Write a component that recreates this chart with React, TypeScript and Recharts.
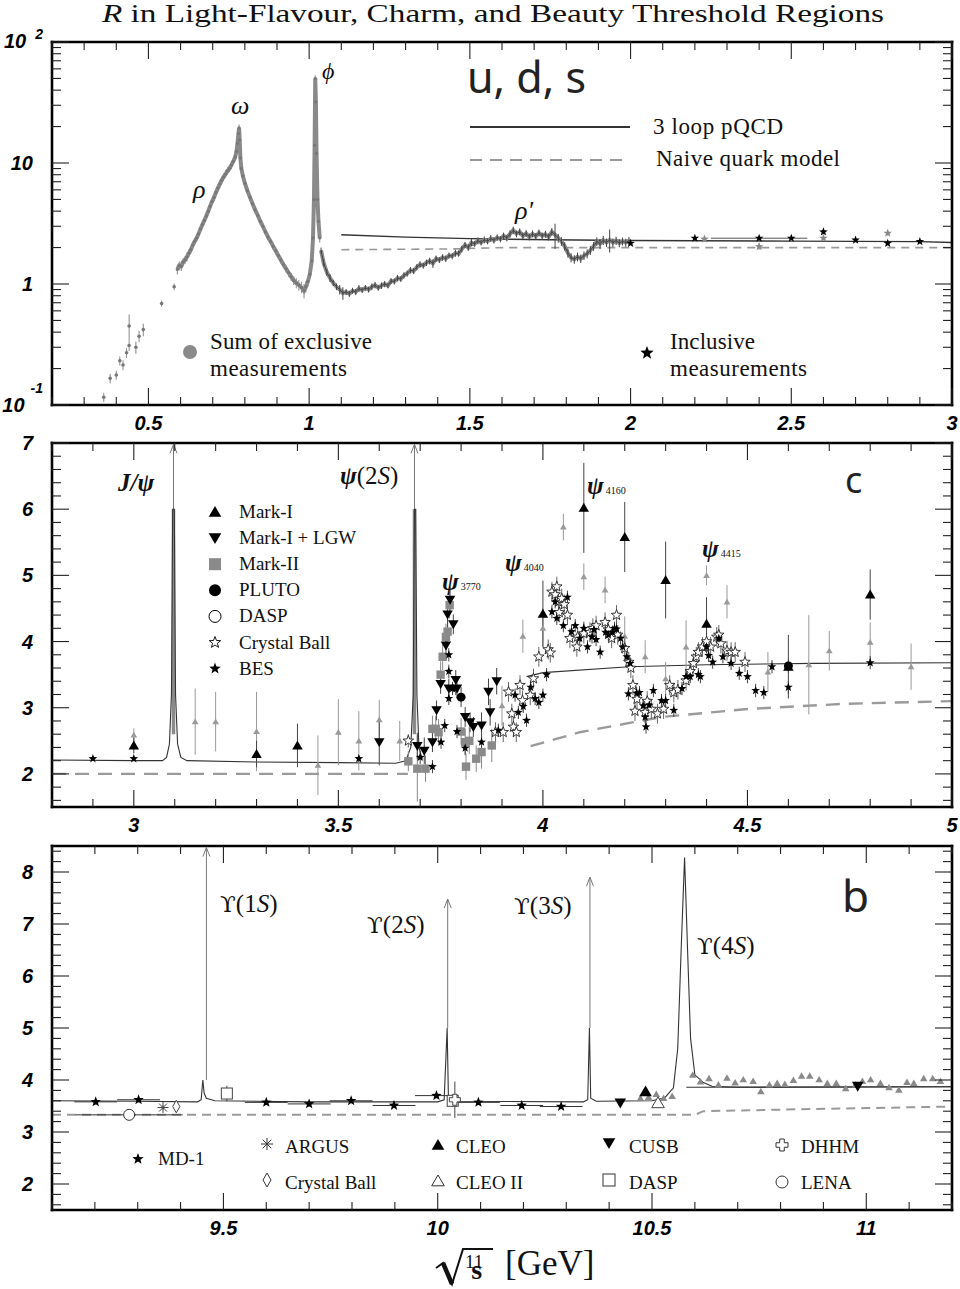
import React from 'react';
import { ComposedChart, Line, Scatter, XAxis, YAxis, ErrorBar } from 'recharts';

type Row = number[];
const toPts = (rows: Row[]) => rows.map((r) => ({ x: r[0], y: r[1], e: r[2] ?? 0, ex: r[3] ?? 0 }));

// ---------------- Panel 1 : u, d, s ----------------
const udsXTicks = [0.2, 0.3, 0.4, 0.5, 0.6, 0.7, 0.8, 0.9, 1, 1.1, 1.2, 1.3, 1.4, 1.5, 1.6, 1.7, 1.8, 1.9, 2, 2.1, 2.2, 2.3, 2.4, 2.5, 2.6, 2.7, 2.8, 2.9, 3];
const udsXMajor = [0.5, 1, 1.5, 2, 2.5, 3];
const udsYTicks = [0.1, 0.2, 0.3, 0.4, 0.5, 0.6, 0.7, 0.8, 0.9, 1, 2, 3, 4, 5, 6, 7, 8, 9, 10, 20, 30, 40, 50, 60, 70, 80, 90, 100];
const udsYMajor = [0.1, 1, 10, 100];

const udsExclusiveSparse: Row[] = [
  [0.361, 0.116, 0.01], [0.381, 0.166, 0.015], [0.4, 0.177, 0.015], [0.411, 0.232, 0.02], [0.421, 0.214, 0.02],
  [0.432, 0.27, 0.025], [0.44, 0.45, 0.11], [0.44, 0.31, 0.03], [0.461, 0.3, 0.035], [0.471, 0.37, 0.04],
  [0.484, 0.42, 0.05], [0.541, 0.69, 0.04], [0.58, 0.95, 0.06],
];
const udsExclusiveResonance: Row[] = [
  [0.59, 1.32, 0.12], [0.596, 1.42, 0.12], [0.602, 1.4, 0.12], [0.608, 1.52, 0.12], [0.614, 1.58, 0.12], [0.62, 1.68, 0.14],
  [0.626, 1.8, 0.14], [0.632, 1.92, 0.14], [0.638, 2.1, 0.15], [0.644, 2.25, 0.15], [0.65, 2.4, 0.16], [0.656, 2.6, 0.17],
  [0.662, 2.85, 0.18], [0.668, 3.1, 0.2], [0.674, 3.35, 0.22], [0.68, 3.65, 0.25], [0.686, 4.0, 0.28], [0.692, 4.4, 0.3],
  [0.698, 4.8, 0.32], [0.704, 5.2, 0.35], [0.71, 5.7, 0.4], [0.716, 6.2, 0.45], [0.722, 6.7, 0.5], [0.728, 7.2, 0.5],
  [0.734, 7.7, 0.5], [0.74, 8.1, 0.6], [0.746, 8.6, 0.6], [0.752, 9.0, 0.6], [0.758, 9.6, 0.7], [0.764, 10.3, 0.7],
  [0.77, 11.2, 0.8], [0.774, 12.5, 0.8], [0.777, 14.5, 1.0], [0.78, 17.5, 1.2], [0.782, 19.5, 1.3], [0.784, 15.5, 1.0],
  [0.786, 11.0, 0.8], [0.789, 9.0, 0.6], [0.794, 7.8, 0.5], [0.8, 6.8, 0.45], [0.808, 5.9, 0.4], [0.816, 5.2, 0.35],
  [0.824, 4.6, 0.3], [0.832, 4.1, 0.28], [0.84, 3.7, 0.25], [0.848, 3.3, 0.22], [0.856, 3.0, 0.2], [0.864, 2.7, 0.18],
  [0.872, 2.45, 0.16], [0.88, 2.25, 0.15], [0.888, 2.05, 0.14], [0.896, 1.88, 0.13], [0.904, 1.72, 0.12], [0.912, 1.58, 0.11],
  [0.92, 1.45, 0.1], [0.928, 1.34, 0.1], [0.936, 1.24, 0.09], [0.944, 1.15, 0.09], [0.952, 1.07, 0.09], [0.96, 1.02, 0.1],
  [0.968, 0.98, 0.1], [0.976, 0.94, 0.1], [0.984, 0.88, 0.12], [0.99, 0.95, 0.1], [0.996, 1.05, 0.1], [1.002, 1.2, 0.1],
  [1.008, 1.55, 0.12], [1.012, 2.4, 0.2], [1.015, 5.0, 0.4], [1.017, 14.0, 1.0], [1.019, 50.0, 3.0], [1.021, 32.0, 2.0],
  [1.023, 12.0, 1.0], [1.026, 5.0, 0.4], [1.029, 3.3, 0.25], [1.033, 2.4, 0.2],
];
const udsExclusiveContinuum: Row[] = [
  [1.037, 1.9, 0.1], [1.045, 1.5, 0.1], [1.055, 1.25, 0.08], [1.065, 1.12, 0.08], [1.075, 1.02, 0.06], [1.085, 0.95, 0.06],
  [1.095, 0.9, 0.08], [1.105, 0.84, 0.1], [1.115, 0.86, 0.05], [1.125, 0.83, 0.05], [1.135, 0.88, 0.05], [1.145, 0.86, 0.05],
  [1.155, 0.92, 0.06], [1.165, 0.89, 0.05], [1.175, 0.93, 0.05], [1.185, 0.9, 0.05], [1.195, 0.95, 0.06], [1.205, 0.98, 0.06],
  [1.215, 0.93, 0.05], [1.225, 0.97, 0.06], [1.235, 1.0, 0.06], [1.245, 0.97, 0.05], [1.255, 1.06, 0.06], [1.265, 1.05, 0.06],
  [1.275, 1.12, 0.07], [1.285, 1.1, 0.06], [1.295, 1.18, 0.07], [1.305, 1.22, 0.07], [1.315, 1.3, 0.08], [1.325, 1.28, 0.07],
  [1.335, 1.38, 0.08], [1.345, 1.45, 0.09], [1.355, 1.42, 0.08], [1.365, 1.5, 0.09], [1.375, 1.55, 0.1], [1.385, 1.48, 0.12],
  [1.395, 1.62, 0.1], [1.405, 1.58, 0.09], [1.415, 1.66, 0.1], [1.425, 1.62, 0.1], [1.435, 1.72, 0.1], [1.445, 1.7, 0.1],
  [1.455, 1.8, 0.12], [1.465, 1.78, 0.1], [1.475, 1.95, 0.12], [1.485, 2.1, 0.12], [1.495, 2.0, 0.12], [1.505, 2.2, 0.15],
  [1.515, 2.15, 0.12], [1.525, 2.28, 0.15], [1.535, 2.2, 0.12], [1.545, 2.32, 0.15], [1.555, 2.25, 0.12], [1.565, 2.38, 0.15],
  [1.575, 2.3, 0.14], [1.585, 2.42, 0.15], [1.595, 2.35, 0.14], [1.605, 2.5, 0.16], [1.615, 2.4, 0.15], [1.625, 2.6, 0.18],
  [1.635, 2.78, 0.2], [1.645, 2.6, 0.17], [1.655, 2.7, 0.18], [1.665, 2.5, 0.16], [1.675, 2.62, 0.17], [1.685, 2.45, 0.16],
  [1.695, 2.6, 0.17], [1.705, 2.48, 0.16], [1.715, 2.65, 0.17], [1.725, 2.5, 0.16], [1.735, 2.58, 0.17], [1.745, 2.45, 0.16],
  [1.755, 2.7, 0.2], [1.765, 2.55, 0.6], [1.775, 2.4, 0.2], [1.785, 2.25, 0.18], [1.795, 2.05, 0.16], [1.805, 1.8, 0.15],
  [1.815, 1.65, 0.14], [1.825, 1.6, 0.13], [1.835, 1.68, 0.14], [1.845, 1.62, 0.13], [1.855, 1.72, 0.14], [1.865, 1.78, 0.15],
  [1.875, 1.9, 0.16], [1.885, 2.05, 0.17], [1.895, 2.25, 0.18], [1.905, 2.15, 0.2], [1.915, 2.3, 0.2], [1.925, 2.2, 0.18],
  [1.935, 2.32, 0.5], [1.945, 2.2, 0.18], [1.955, 2.28, 0.18], [1.965, 2.18, 0.17], [1.975, 2.25, 0.17], [1.985, 2.2, 0.17],
  [1.995, 2.28, 0.17],
];
const udsPqcd: Row[] = [[1.1, 2.55], [1.3, 2.44], [1.5, 2.37], [1.75, 2.32], [2.0, 2.29], [2.5, 2.26], [2.9, 2.24], [3.0, 2.2]];
const udsNaive: Row[] = [[1.1, 1.92], [1.45, 1.95], [1.6, 2.0], [3.0, 2.0]];
const udsInclusive: Row[] = [
  [2.0, 2.17, 0, 0], [2.2, 2.39, 0, 0], [2.4, 2.39, 0, 0.15], [2.5, 2.39, 0, 0], [2.6, 2.7, 0, 0],
  [2.7, 2.31, 0, 0], [2.8, 2.17, 0, 0], [2.9, 2.24, 0, 0],
];
const udsInclusiveGrey: Row[] = [[2.23, 2.35, 0.05], [2.4, 2.04, 0.12], [2.6, 2.39, 0.1], [2.8, 2.63, 0.12]];

// ---------------- Panel 2 : charm ----------------
const charmXTicks = [2.8, 2.9, 3, 3.1, 3.2, 3.3, 3.4, 3.5, 3.6, 3.7, 3.8, 3.9, 4, 4.1, 4.2, 4.3, 4.4, 4.5, 4.6, 4.7, 4.8, 4.9, 5];
const charmXMajor = [3, 3.5, 4, 4.5, 5];
const charmYTicks = [1.6, 1.8, 2, 2.2, 2.4, 2.6, 2.8, 3, 3.2, 3.4, 3.6, 3.8, 4, 4.2, 4.4, 4.6, 4.8, 5, 5.2, 5.4, 5.6, 5.8, 6, 6.2, 6.4, 6.6, 6.8, 7];
const charmYMajor = [2, 3, 4, 5, 6, 7];

const charmPqcdLow: Row[] = [
  [2.8, 2.21], [3.0, 2.2], [3.07, 2.2], [3.08, 2.25], [3.087, 2.45], [3.092, 3.2], [3.095, 6.0], [3.099, 6.0],
  [3.102, 3.2], [3.107, 2.45], [3.115, 2.25], [3.13, 2.2], [3.3, 2.18], [3.5, 2.17], [3.64, 2.16], [3.665, 2.2],
  [3.677, 2.4], [3.683, 3.2], [3.686, 6.0], [3.689, 6.0], [3.692, 3.2], [3.697, 2.4], [3.705, 2.22],
];
const charmPqcdHigh: Row[] = [[3.96, 3.47], [4.0, 3.53], [4.21, 3.62], [4.4, 3.65], [4.66, 3.67], [5.0, 3.68]];
const charmNaiveLow: Row[] = [[2.8, 2.0], [3.67, 2.0]];
const charmNaiveHigh: Row[] = [[3.97, 2.42], [4.09, 2.63], [4.29, 2.86], [4.5, 2.98], [4.74, 3.06], [5.0, 3.1]];
const jpsiBar: Row[] = [[3.097, 2.6], [3.097, 6.0]];
const jpsiArrow: Row[] = [[3.097, 6.0], [3.097, 6.98]];
const psi2sBar: Row[] = [[3.686, 2.6], [3.686, 6.0]];
const psi2sArrow: Row[] = [[3.686, 6.0], [3.686, 6.98]];

const markI: Row[] = [
  [3.0, 2.43, 0.12], [3.3, 2.3, 0.2], [3.4, 2.43, 0.33], [4.0, 4.42, 0.5], [4.1, 6.02, 0.68], [4.2, 5.58, 0.53],
  [4.3, 4.93, 0.58], [4.4, 4.27, 0.4], [4.6, 3.62, 0.48], [4.8, 4.71, 0.38],
];
const markILGW: Row[] = [
  [3.6, 2.48, 0.35], [3.693, 2.42, 0.2], [3.71, 2.35, 0.2], [3.73, 2.48, 0.15], [3.74, 2.96, 0.15], [3.75, 3.36, 0.15],
  [3.763, 3.94, 0.15], [3.767, 4.41, 0.2], [3.773, 4.63, 0.2], [3.77, 3.29, 0.15], [3.781, 4.26, 0.15], [3.787, 3.42, 0.15],
  [3.79, 3.29, 0.15], [3.81, 2.86, 0.15], [3.822, 2.78, 0.15], [3.83, 2.71, 0.15], [3.85, 2.73, 0.2], [3.867, 3.24, 0.2],
  [3.871, 2.93, 0.2], [3.887, 3.4, 0.2],
];
const markII: Row[] = [
  [3.671, 2.19, 0.15], [3.693, 2.08, 0.5], [3.713, 2.08, 0.2], [3.73, 2.68, 0.2], [3.738, 2.68, 0.2], [3.745, 2.63, 0.2],
  [3.75, 3.5, 0.2], [3.755, 3.77, 0.2], [3.763, 4.07, 0.2], [3.767, 4.15, 0.2], [3.772, 4.55, 0.2], [3.8, 2.64, 0.2],
  [3.81, 2.48, 0.2], [3.82, 2.5, 0.2], [3.812, 2.11, 0.2], [3.837, 2.23, 0.2], [3.85, 2.33, 0.25], [3.875, 2.43, 0.25],
];
const pluto: Row[] = [[3.8, 3.16, 0.15], [4.6, 3.63, 0.1]];
const crystalBallCharm: Row[] = [
  [3.671, 2.5, 0.1], [3.884, 2.63, 0.15], [3.903, 2.63, 0.15], [3.916, 3.24, 0.15], [3.924, 2.91, 0.15], [3.928, 2.71, 0.15],
  [3.935, 2.63, 0.15], [3.944, 3.34, 0.15], [3.95, 3.11, 0.15], [3.969, 3.19, 0.15], [3.977, 3.44, 0.15], [3.99, 3.77, 0.15],
  [4.013, 3.88, 0.15], [4.018, 3.83, 0.15], [4.022, 4.75, 0.15], [4.03, 4.71, 0.15], [4.034, 4.83, 0.15], [4.038, 4.6, 0.15],
  [4.04, 4.44, 0.15], [4.046, 4.65, 0.15], [4.052, 4.56, 0.15], [4.06, 4.4, 0.15], [4.066, 4.05, 0.15], [4.083, 3.92, 0.15],
  [4.085, 4.07, 0.15], [4.1, 4.12, 0.15], [4.115, 4.14, 0.15], [4.122, 4.2, 0.15], [4.13, 4.24, 0.15], [4.152, 4.29, 0.15],
  [4.16, 4.18, 0.15], [4.168, 4.05, 0.15], [4.18, 4.4, 0.15], [4.183, 4.1, 0.15], [4.2, 3.9, 0.15], [4.21, 3.69, 0.15],
  [4.215, 3.6, 0.15], [4.22, 3.34, 0.15], [4.225, 2.95, 0.15], [4.23, 3.13, 0.15], [4.25, 2.93, 0.15], [4.255, 3.1, 0.15],
  [4.265, 2.98, 0.15], [4.28, 2.91, 0.15], [4.295, 2.98, 0.15], [4.31, 3.34, 0.15], [4.32, 3.23, 0.15], [4.33, 3.27, 0.15],
  [4.35, 3.41, 0.15], [4.36, 3.55, 0.15], [4.368, 3.67, 0.15], [4.375, 3.77, 0.15], [4.38, 3.84, 0.15], [4.39, 3.92, 0.15],
  [4.4, 4.0, 0.15], [4.41, 3.92, 0.15], [4.425, 4.07, 0.15], [4.43, 4.1, 0.15], [4.435, 3.97, 0.15], [4.45, 3.86, 0.15],
  [4.46, 3.84, 0.15], [4.47, 3.84, 0.15], [4.494, 3.69, 0.15],
];
const besCharm: Row[] = [
  [2.9, 2.23, 0.03], [3.0, 2.23, 0.03], [3.55, 2.23, 0.05], [3.7, 2.25, 0.1], [3.73, 2.11, 0.1], [3.751, 2.48, 0.1],
  [3.76, 2.73, 0.1], [3.77, 3.8, 0.1], [3.77, 3.55, 0.1], [3.77, 3.14, 0.1], [3.779, 3.29, 0.1], [3.787, 3.29, 0.1],
  [3.79, 2.64, 0.1], [3.81, 2.39, 0.1], [3.85, 2.48, 0.1], [3.891, 2.66, 0.1], [3.932, 3.19, 0.1], [3.94, 2.93, 0.1],
  [3.952, 3.02, 0.1], [3.96, 2.81, 0.1], [3.97, 3.31, 0.1], [3.981, 3.14, 0.1], [3.99, 3.08, 0.1], [4.0, 3.19, 0.1],
  [4.009, 3.5, 0.1], [4.022, 4.45, 0.1], [4.03, 4.6, 0.1], [4.034, 4.35, 0.1], [4.05, 4.24, 0.1], [4.06, 4.67, 0.1],
  [4.07, 4.15, 0.1], [4.079, 4.24, 0.1], [4.09, 4.05, 0.1], [4.1, 4.2, 0.1], [4.109, 3.92, 0.1], [4.12, 4.07, 0.1],
  [4.125, 4.18, 0.1], [4.13, 4.03, 0.1], [4.14, 3.84, 0.1], [4.153, 4.14, 0.1], [4.16, 4.1, 0.1], [4.17, 4.14, 0.1],
  [4.175, 4.2, 0.1], [4.18, 4.19, 0.1], [4.19, 4.05, 0.1], [4.195, 3.92, 0.1], [4.205, 3.77, 0.1], [4.213, 3.67, 0.1],
  [4.209, 3.21, 0.1], [4.229, 3.22, 0.1], [4.236, 3.23, 0.1], [4.245, 3.03, 0.1], [4.25, 2.86, 0.1], [4.252, 2.71, 0.1],
  [4.26, 3.04, 0.1], [4.27, 3.26, 0.1], [4.29, 3.11, 0.1], [4.3, 3.11, 0.1], [4.32, 2.96, 0.1], [4.34, 3.29, 0.1],
  [4.35, 3.47, 0.1], [4.36, 3.47, 0.1], [4.38, 3.5, 0.1], [4.385, 3.47, 0.1], [4.4, 3.92, 0.1], [4.405, 3.79, 0.1],
  [4.415, 3.69, 0.1], [4.43, 4.05, 0.1], [4.44, 3.77, 0.1], [4.46, 3.67, 0.1], [4.48, 3.52, 0.1], [4.5, 3.47, 0.1],
  [4.52, 3.26, 0.1], [4.54, 3.23, 0.1], [4.56, 3.62, 0.1], [4.6, 3.31, 0.1], [4.8, 3.68, 0.1],
];
const charmOther: Row[] = [
  [3.0, 2.59, 0.1], [3.15, 2.79, 0.5], [3.2, 2.79, 0.45], [3.3, 2.64, 0.6], [3.45, 2.13, 0.45], [3.5, 2.63, 0.5],
  [3.55, 2.5, 0.45], [3.6, 2.82, 0.3], [3.65, 2.5, 0.3], [3.9, 3.03, 0.3], [3.951, 4.08, 0.25], [4.0, 4.2, 0.3],
  [4.05, 5.73, 0.2], [4.1, 4.98, 0.2], [4.152, 4.78, 0.2], [4.2, 4.08, 0.3], [4.25, 3.77, 0.25], [4.3, 3.44, 0.25],
  [4.35, 3.92, 0.4], [4.4, 5.0, 0.15], [4.45, 4.6, 0.25], [4.55, 3.54, 0.3], [4.65, 3.65, 0.75], [4.7, 3.86, 0.3],
  [4.8, 3.99, 0.3], [4.9, 3.62, 0.35],
];

// ---------------- Panel 3 : beauty ----------------
const beautyXTicks = [9.1, 9.2, 9.3, 9.4, 9.5, 9.6, 9.7, 9.8, 9.9, 10, 10.1, 10.2, 10.3, 10.4, 10.5, 10.6, 10.7, 10.8, 10.9, 11, 11.1, 11.2];
const beautyXMajor = [9.5, 10, 10.5, 11];
const beautyYTicks = [1.6, 1.8, 2, 2.2, 2.4, 2.6, 2.8, 3, 3.2, 3.4, 3.6, 3.8, 4, 4.2, 4.4, 4.6, 4.8, 5, 5.2, 5.4, 5.6, 5.8, 6, 6.2, 6.4, 6.6, 6.8, 7, 7.2, 7.4, 7.6, 7.8, 8, 8.2, 8.4];
const beautyYMajor = [2, 3, 4, 5, 6, 7, 8];

const beautyCurve: Row[] = [
  [9.1, 3.6], [9.3, 3.59], [9.44, 3.58], [9.448, 3.62], [9.452, 4.0], [9.455, 3.75], [9.46, 3.65], [9.48, 3.6],
  [9.7, 3.58], [10.0, 3.58], [10.015, 3.62], [10.022, 5.0], [10.025, 3.65], [10.04, 3.59], [10.34, 3.58], [10.35, 3.62],
  [10.354, 5.0], [10.357, 3.65], [10.37, 3.59], [10.5, 3.6], [10.53, 3.66], [10.55, 3.85], [10.56, 4.6], [10.568, 6.5],
  [10.576, 8.28], [10.583, 6.5], [10.59, 4.8], [10.6, 4.1], [10.62, 3.95], [10.64, 3.88], [10.7, 3.86], [11.2, 3.87],
];
const beautyPqcdHigh: Row[] = [[10.58, 3.86], [11.2, 3.87]];
const beautyNaive: Row[] = [[9.1, 3.33], [10.6, 3.33], [10.62, 3.4], [10.8, 3.43], [11.0, 3.46], [11.2, 3.49]];
const ups1Arrow: Row[] = [[9.4603, 4.0], [9.4603, 8.47]];
const ups2Arrow: Row[] = [[10.0233, 5.0], [10.0233, 7.48]];
const ups3Arrow: Row[] = [[10.3552, 5.0], [10.3552, 7.9]];

const md1: Row[] = [
  [9.202, 3.58, 0.05, 0.05], [9.302, 3.62, 0.05, 0.05], [9.6, 3.57, 0.05, 0.05], [9.7, 3.54, 0.05, 0.05],
  [9.798, 3.6, 0.05, 0.05], [9.898, 3.51, 0.05, 0.05], [9.997, 3.7, 0.05, 0.05], [10.095, 3.57, 0.05, 0.05],
  [10.196, 3.51, 0.05, 0.05], [10.288, 3.49, 0.05, 0.05],
];
const argus: Row[] = [[9.359, 3.47, 0.04]];
const crystalBallBeauty: Row[] = [[9.39, 3.49, 0.05]];
const lena: Row[] = [[9.28, 3.33, 0.03, 0.125]];
const daspBeauty: Row[] = [[9.508, 3.74, 0.15], [10.035, 3.6, 0.12]];
const dhhm: Row[] = [[10.04, 3.62, 0.35]];
const cusb: Row[] = [[10.426, 3.56, 0.05], [10.98, 3.88, 0.05]];
const cleo: Row[] = [[10.485, 3.78, 0.05]];
const cleoII: Row[] = [[10.514, 3.56, 0.05]];
const cleoScan: Row[] = [
  [10.473, 3.65], [10.492, 3.67], [10.51, 3.73], [10.527, 3.65], [10.547, 3.69], [10.595, 4.1], [10.613, 3.97],
  [10.633, 4.03], [10.655, 3.91], [10.675, 4.04], [10.694, 3.95], [10.713, 4.01], [10.736, 3.98], [10.754, 3.78],
  [10.774, 3.91], [10.792, 3.94], [10.81, 3.92], [10.83, 4.0], [10.849, 4.08], [10.868, 4.08], [10.89, 4.01],
  [10.909, 3.94], [10.93, 3.94], [10.952, 3.84], [10.975, 3.91], [10.991, 3.98], [11.01, 4.01], [11.033, 3.94],
  [11.053, 3.86], [11.076, 3.81], [11.095, 3.96], [11.111, 3.94], [11.134, 4.03], [11.155, 4.03], [11.173, 3.98],
];

const charmLegend = ['Mark-I', 'Mark-I + LGW', 'Mark-II', 'PLUTO', 'DASP', 'Crystal Ball', 'BES'];

// ---------------- styling helpers ----------------
const SERIF = "'Liberation Serif', 'Times New Roman', serif";
const TICK_FONT: React.CSSProperties = { fontFamily: "'Liberation Sans', Arial, sans-serif", fontWeight: 700, fontStyle: 'italic', fontSize: 20, fill: '#000' };
const AXIS_LINE = { stroke: '#000', strokeWidth: 2.6, strokeLinecap: 'square' as const };
const GREY = '#8a8a8a';

function starPath(cx: number, cy: number, R: number) {
  const r = R * 0.42;
  let d = '';
  for (let i = 0; i < 10; i++) {
    const a = -Math.PI / 2 + (i * Math.PI) / 5;
    const rad = i % 2 === 0 ? R : r;
    d += (i === 0 ? 'M' : 'L') + (cx + rad * Math.cos(a)).toFixed(2) + ',' + (cy + rad * Math.sin(a)).toFixed(2);
  }
  return d + 'Z';
}

function Marker({ kind, cx, cy, s, color }: { kind: string; cx: number; cy: number; s: number; color: string }) {
  const sw = 1;
  switch (kind) {
    case 'triUp':
      return <path d={`M${cx},${cy - s}L${cx + s * 1.05},${cy + s * 0.8}L${cx - s * 1.05},${cy + s * 0.8}Z`} fill={color} />;
    case 'openTri':
      return <path d={`M${cx},${cy - s}L${cx + s * 1.05},${cy + s * 0.8}L${cx - s * 1.05},${cy + s * 0.8}Z`} fill="#fff" stroke={color} strokeWidth={sw} />;
    case 'triDown':
      return <path d={`M${cx},${cy + s}L${cx + s * 1.05},${cy - s * 0.8}L${cx - s * 1.05},${cy - s * 0.8}Z`} fill={color} />;
    case 'square':
      return <rect x={cx - s} y={cy - s} width={2 * s} height={2 * s} fill={color} />;
    case 'openSquare':
      return <rect x={cx - s} y={cy - s} width={2 * s} height={2 * s} fill="#fff" stroke={color} strokeWidth={sw} />;
    case 'circle':
      return <circle cx={cx} cy={cy} r={s} fill={color} />;
    case 'openCircle':
      return <circle cx={cx} cy={cy} r={s} fill="#fff" stroke={color} strokeWidth={sw} />;
    case 'star':
      return <path d={starPath(cx, cy, s)} fill={color} />;
    case 'openStar':
      return <path d={starPath(cx, cy, s)} fill="#fff" stroke={color} strokeWidth={0.9} />;
    case 'diamond':
      return <path d={`M${cx},${cy - s * 1.4}L${cx + s * 0.8},${cy}L${cx},${cy + s * 1.4}L${cx - s * 0.8},${cy}Z`} fill="#fff" stroke={color} strokeWidth={sw} />;
    case 'asterisk':
      return (
        <g stroke={color} strokeWidth={sw}>
          <line x1={cx - s} y1={cy} x2={cx + s} y2={cy} />
          <line x1={cx} y1={cy - s} x2={cx} y2={cy + s} />
          <line x1={cx - s * 0.72} y1={cy - s * 0.72} x2={cx + s * 0.72} y2={cy + s * 0.72} />
          <line x1={cx - s * 0.72} y1={cy + s * 0.72} x2={cx + s * 0.72} y2={cy - s * 0.72} />
        </g>
      );
    case 'plus': {
      const a = s * 0.38;
      return (
        <path
          d={`M${cx - a},${cy - s}H${cx + a}V${cy - a}H${cx + s}V${cy + a}H${cx + a}V${cy + s}H${cx - a}V${cy + a}H${cx - s}V${cy - a}H${cx - a}Z`}
          fill="#fff" stroke={color} strokeWidth={sw}
        />
      );
    }
    case 'dot':
      return <circle cx={cx} cy={cy} r={s} fill={color} />;
    default:
      return <g />;
  }
}

const shapeOf = (kind: string, s: number, color: string) => (p: any) =>
  <Marker kind={kind} cx={p.cx} cy={p.cy} s={s} color={color} />;
const noShape = () => <g />;

const arrowHead = (color: string) => (p: any) => {
  if (p.index !== 1) return <g key={`ah${p.index}`} />;
  return (
    <path key={`ah${p.index}`} d={`M${p.cx - 3.5},${p.cy + 9}L${p.cx},${p.cy}L${p.cx + 3.5},${p.cy + 9}`} fill="none" stroke={color} strokeWidth={1} />
  );
};

function xTick(side: 'bottom' | 'top', major: number[]) {
  return function XT(props: any) {
    const { x, y, payload } = props;
    const v = payload.value as number;
    const isMajor = major.indexOf(v) >= 0;
    const len = isMajor ? 17 : 8;
    const d = side === 'bottom' ? -1 : 1;
    return (
      <g>
        <line x1={x} y1={y} x2={x} y2={y + d * len} stroke="#222" strokeWidth={1.1} />
        {side === 'bottom' && isMajor ? (
          <text x={x} y={y + 24.5} textAnchor="middle" style={TICK_FONT}>{String(v)}</text>
        ) : null}
      </g>
    );
  };
}

type LabelFn = (v: number, x: number, y: number) => React.ReactNode;

function yTick(side: 'left' | 'right', major: number[], label?: LabelFn) {
  return function YT(props: any) {
    const { x, y, payload } = props;
    const v = payload.value as number;
    const isMajor = major.indexOf(v) >= 0;
    const len = isMajor ? 17 : 9;
    const d = side === 'left' ? 1 : -1;
    return (
      <g>
        <line x1={x} y1={y} x2={x + d * len} y2={y} stroke="#222" strokeWidth={1.1} />
        {side === 'left' && isMajor && label ? label(v, x, y) : null}
      </g>
    );
  };
}

const logLabel: LabelFn = (v, x, y) => {
  if (v === 100)
    return (
      <text x={x - 9} y={y + 6} textAnchor="end" style={TICK_FONT}>
        10<tspan dx={9} dy={-9} fontSize={14}>2</tspan>
      </text>
    );
  if (v === 0.1)
    return (
      <text x={x - 9} y={y + 7} textAnchor="end" style={TICK_FONT}>
        10<tspan dx={6} dy={-19} fontSize={14}>-1</tspan>
      </text>
    );
  return <text x={x - 19} y={y + 7} textAnchor="end" style={TICK_FONT}>{String(v)}</text>;
};
const intLabel: LabelFn = (v, x, y) => (
  <text x={x - 19} y={y + 7} textAnchor="end" style={TICK_FONT}>{String(v)}</text>
);

type PanelProps = {
  top: number; height: number; mt: number; mb: number;
  xDomain: [number, number]; xTicks: number[]; xMajor: number[];
  yDomain: [number, number]; yTicks: number[]; yMajor: number[];
  log?: boolean; label: LabelFn; children: React.ReactNode;
};

// axes are 1px thick; margins are reduced by 1px so the plot frame lands where the reference has it
function Panel(p: PanelProps) {
  const scale = p.log ? 'log' : 'linear';
  return (
    <div style={{ position: 'absolute', left: 0, top: p.top, width: 960, height: p.height, overflow: 'visible' }}>
      <ComposedChart width={960} height={p.height} margin={{ top: p.mt - 1, right: 7, bottom: p.mb - 1, left: 51 }}
        style={{ overflow: 'visible' }}>
        <XAxis dataKey="x" type="number" domain={p.xDomain} ticks={p.xTicks} interval={0} allowDataOverflow
          height={1} tickSize={0} tickMargin={0} tickLine={false} axisLine={AXIS_LINE} tick={xTick('bottom', p.xMajor)} />
        <XAxis xAxisId="t" orientation="top" dataKey="x" type="number" domain={p.xDomain} ticks={p.xTicks} interval={0} allowDataOverflow
          height={1} tickSize={0} tickMargin={0} tickLine={false} axisLine={AXIS_LINE} tick={xTick('top', p.xMajor)} />
        <YAxis type="number" scale={scale} domain={p.yDomain} ticks={p.yTicks} interval={0} allowDataOverflow
          width={1} tickSize={0} tickMargin={0} tickLine={false} axisLine={AXIS_LINE} tick={yTick('left', p.yMajor, p.label)} />
        <YAxis yAxisId="r" orientation="right" type="number" scale={scale} domain={p.yDomain} ticks={p.yTicks} interval={0} allowDataOverflow
          width={1} tickSize={0} tickMargin={0} tickLine={false} axisLine={AXIS_LINE} tick={yTick('right', p.yMajor)} />
        {p.children}
      </ComposedChart>
    </div>
  );
}

const L = (rows: Row[], stroke: string, w: number, dash?: string) => (
  <Line data={toPts(rows)} dataKey="y" type="linear" stroke={stroke} strokeWidth={w} strokeDasharray={dash}
    dot={false} activeDot={false} isAnimationActive={false} />
);

const S = (rows: Row[], kind: string, s: number, color: string, errColor: string, xErr = false) => (
  <Scatter data={toPts(rows)} dataKey="y" shape={kind === 'none' ? noShape : shapeOf(kind, s, color)} isAnimationActive={false}>
    <ErrorBar dataKey="e" direction="y" width={0} stroke={errColor} strokeWidth={1} />
    {xErr ? <ErrorBar dataKey="ex" direction="x" width={0} stroke={errColor} strokeWidth={1} /> : null}
  </Scatter>
);

const Arrow = (rows: Row[], color: string) => (
  <Line data={toPts(rows)} dataKey="y" type="linear" stroke={color} strokeWidth={1} dot={arrowHead(color)}
    activeDot={false} isAnimationActive={false} />
);

function Ups({ x, y, n }: { x: number; y: number; n: string }) {
  return (
    <text x={x} y={y} style={{ fontFamily: SERIF, fontSize: 25, fill: '#111' }}>
      <tspan style={{ fontFamily: "'DejaVu Serif', serif", fontSize: 23 }}>ϒ</tspan>({n}<tspan fontStyle="italic">S</tspan>)
    </text>
  );
}

function Psi({ x, y, sub }: { x: number; y: number; sub: string }) {
  return (
    <text x={x} y={y} style={{ fontFamily: SERIF, fill: '#111' }}>
      <tspan fontSize={25} fontWeight={700} fontStyle="italic">ψ</tspan>
      <tspan fontSize={10} dx={2}>{sub}</tspan>
    </text>
  );
}

function Overlay() {
  const t = { fontFamily: SERIF, fill: '#111' } as React.CSSProperties;
  const charmKinds: [string, string][] = [
    ['triUp', '#000'], ['triDown', '#000'], ['square', GREY], ['circle', '#000'], ['openCircle', '#000'], ['openStar', '#000'], ['star', '#000'],
  ];
  return (
    <svg width={960} height={1289} style={{ position: 'absolute', left: 0, top: 0, pointerEvents: 'none' }}>
      {/* title */}
      <text x={102} y={22} textLength={782} lengthAdjust="spacingAndGlyphs" style={{ ...t, fontSize: 25 }}>
        <tspan fontStyle="italic">R</tspan> in Light-Flavour, Charm, and Beauty Threshold Regions
      </text>

      {/* panel 1 annotations */}
      <text x={193} y={198} style={{ ...t, fontSize: 26, fontStyle: 'italic' }}>ρ</text>
      <text x={231} y={114} style={{ ...t, fontSize: 26, fontStyle: 'italic' }}>ω</text>
      <text x={322} y={79} style={{ ...t, fontSize: 24, fontStyle: 'italic' }}>ϕ</text>
      <text x={515} y={219} style={{ ...t, fontSize: 26, fontStyle: 'italic' }}>ρ′</text>
      <text x={467} y={93} style={{ fontFamily: "'Noto Sans', sans-serif", fontSize: 43, fill: '#222' }}>u, d, s</text>
      <line x1={470} y1={127} x2={630} y2={127} stroke="#333" strokeWidth={2} />
      <line x1={470} y1={160} x2={630} y2={160} stroke="#999" strokeWidth={2} strokeDasharray="12 8" />
      <text x={653} y={134} textLength={130} style={{ ...t, fontSize: 23 }}>3 loop pQCD</text>
      <text x={656} y={166} textLength={184} style={{ ...t, fontSize: 23 }}>Naive quark model</text>
      <circle cx={190} cy={352} r={7} fill={GREY} />
      <text x={210} y={349} textLength={162} style={{ ...t, fontSize: 23 }}>Sum of exclusive</text>
      <text x={210} y={376} textLength={137} style={{ ...t, fontSize: 23 }}>measurements</text>
      <Marker kind="star" cx={647} cy={353} s={7} color="#000" />
      <text x={670} y={349} textLength={85} style={{ ...t, fontSize: 23 }}>Inclusive</text>
      <text x={670} y={376} textLength={137} style={{ ...t, fontSize: 23 }}>measurements</text>

      {/* panel 2 annotations */}
      <text x={118} y={491} style={{ ...t, fontSize: 25, fontWeight: 700, fontStyle: 'italic' }}>J/ψ</text>
      <text x={340} y={484} style={{ ...t, fontSize: 25 }}>
        <tspan fontWeight={700} fontStyle="italic">ψ</tspan>(2<tspan fontStyle="italic">S</tspan>)
      </text>
      <Psi x={442} y={590} sub="3770" />
      <Psi x={505} y={571} sub="4040" />
      <Psi x={587} y={494} sub="4160" />
      <Psi x={702} y={557} sub="4415" />
      <text x={845} y={493} style={{ fontFamily: "'Noto Sans', sans-serif", fontSize: 36, fill: '#222' }}>c</text>
      {charmLegend.map((name, i) => (
        <g key={name}>
          <Marker kind={charmKinds[i][0]} cx={215} cy={512 + i * 26.1} s={6} color={charmKinds[i][1]} />
          <text x={239} y={518 + i * 26.1} style={{ ...t, fontSize: 19 }}>{name}</text>
        </g>
      ))}

      {/* panel 3 annotations */}
      <Ups x={220} y={912} n="1" />
      <Ups x={367} y={933} n="2" />
      <Ups x={514} y={914} n="3" />
      <Ups x={697} y={954} n="4" />
      <text x={842} y={912} style={{ fontFamily: "'Noto Sans', sans-serif", fontSize: 44, fill: '#222' }}>b</text>
      <Marker kind="star" cx={138} cy={1159} s={6} color="#000" />
      <text x={158} y={1165} style={{ ...t, fontSize: 19 }}>MD-1</text>
      <Marker kind="asterisk" cx={267} cy={1144} s={6} color="#333" />
      <text x={285} y={1153} style={{ ...t, fontSize: 19 }}>ARGUS</text>
      <Marker kind="diamond" cx={267} cy={1180} s={5} color="#333" />
      <text x={285} y={1189} style={{ ...t, fontSize: 19 }}>Crystal Ball</text>
      <Marker kind="triUp" cx={438} cy={1145} s={6} color="#000" />
      <text x={456} y={1153} style={{ ...t, fontSize: 19 }}>CLEO</text>
      <Marker kind="openTri" cx={438} cy={1181} s={6} color="#333" />
      <text x={456} y={1189} style={{ ...t, fontSize: 19 }}>CLEO II</text>
      <Marker kind="triDown" cx={609} cy={1143} s={6} color="#000" />
      <text x={629} y={1153} style={{ ...t, fontSize: 19 }}>CUSB</text>
      <Marker kind="openSquare" cx={609} cy={1180} s={6} color="#333" />
      <text x={629} y={1189} style={{ ...t, fontSize: 19 }}>DASP</text>
      <Marker kind="plus" cx={782} cy={1145} s={6} color="#333" />
      <text x={801} y={1153} style={{ ...t, fontSize: 19 }}>DHHM</text>
      <Marker kind="openCircle" cx={782} cy={1182} s={6} color="#333" />
      <text x={801} y={1189} style={{ ...t, fontSize: 19 }}>LENA</text>

      {/* x-axis title: radical sign drawn as a path; the stray "11" overprints the s as in the reference */}
      <path d="M436,1268 L443,1263 L452,1284 L463,1249 L493,1249" fill="none" stroke="#111" strokeWidth={2} strokeLinejoin="miter" />
      <path d="M443,1263 L452,1284" fill="none" stroke="#111" strokeWidth={4.5} />
      <text x={465} y={1268} style={{ ...t, fontSize: 19 }}>
        11<tspan dx={-12} dy={11} fontSize={28} fontWeight={700}>s</tspan>
      </text>
      <text x={505} y={1275} style={{ ...t, fontSize: 35 }}>[GeV]</text>
    </svg>
  );
}

export default function App() {
  return (
    <div style={{ position: 'absolute', left: 0, top: 0, width: 960, height: 1289, background: '#fff', overflow: 'hidden' }}>
      <style>{'.recharts-wrapper, .recharts-surface { overflow: visible !important; }'}</style>
      <Panel top={0} height={430} mt={42} mb={25} xDomain={[0.2, 3]} xTicks={udsXTicks} xMajor={udsXMajor}
        yDomain={[0.1, 100]} yTicks={udsYTicks} yMajor={udsYMajor} log label={logLabel}>
        {L(udsNaive, '#999', 1.6, '8 6')}
        {L(udsPqcd, '#333', 1.4)}
        {L(udsExclusiveResonance, GREY, 4)}
        {S(udsExclusiveResonance, 'dot', 1.6, '#777', '#8a8a8a')}
        {S(udsExclusiveSparse, 'dot', 1.8, '#777', '#888')}
        {L(udsExclusiveContinuum, GREY, 4)}
        {L(udsExclusiveContinuum, '#333', 0.8)}
        {S(udsExclusiveContinuum, 'none', 0, '#333', '#444')}
        {S(udsInclusiveGrey, 'star', 4.5, '#888', '#999')}
        {S(udsInclusive, 'star', 4.5, '#000', '#555', true)}
      </Panel>

      <Panel top={430} height={400} mt={13} mb={23} xDomain={[2.8, 5]} xTicks={charmXTicks} xMajor={charmXMajor}
        yDomain={[1.5, 7]} yTicks={charmYTicks} yMajor={charmYMajor} label={intLabel}>
        {L(charmNaiveLow, '#9a9a9a', 2.4, '14 9')}
        {L(charmNaiveHigh, '#9a9a9a', 2.4, '14 9')}
        {L(jpsiBar, GREY, 3.5)}
        {L(psi2sBar, GREY, 3.5)}
        {Arrow(jpsiArrow, '#777')}
        {Arrow(psi2sArrow, '#777')}
        {L(charmPqcdLow, '#333', 1.1)}
        {L(charmPqcdHigh, '#333', 1.1)}
        {S(charmOther, 'triUp', 3.2, '#9a9a9a', '#999')}
        {S(markII, 'square', 4.2, '#8a8a8a', '#888')}
        {S(crystalBallCharm, 'openStar', 5.5, '#222', '#666')}
        {S(besCharm, 'star', 4.6, '#000', '#444')}
        {S(markI, 'triUp', 5, '#000', '#444')}
        {S(markILGW, 'triDown', 5, '#000', '#444')}
        {S(pluto, 'circle', 4.5, '#000', '#444')}
      </Panel>

      <Panel top={830} height={459} mt={16} mb={79} xDomain={[9.1, 11.2]} xTicks={beautyXTicks} xMajor={beautyXMajor}
        yDomain={[1.5, 8.5]} yTicks={beautyYTicks} yMajor={beautyYMajor} label={intLabel}>
        {L(beautyNaive, '#9a9a9a', 2, '9 6')}
        {Arrow(ups1Arrow, '#777')}
        {Arrow(ups2Arrow, '#777')}
        {Arrow(ups3Arrow, '#777')}
        {L(beautyCurve, '#333', 1.1)}
        {L(beautyPqcdHigh, '#333', 1.1)}
        {S(cleoScan, 'triUp', 3.6, '#8a8a8a', '#999')}
        {S(md1, 'star', 5.5, '#000', '#333', true)}
        {S(lena, 'openCircle', 5.5, '#333', '#333', true)}
        {S(argus, 'asterisk', 5.5, '#444', '#444')}
        {S(crystalBallBeauty, 'diamond', 4.5, '#444', '#444')}
        {S(daspBeauty, 'openSquare', 5.5, '#444', '#444')}
        {S(dhhm, 'plus', 5.5, '#444', '#444')}
        {S(cusb, 'triDown', 5.5, '#000', '#333')}
        {S(cleo, 'triUp', 6, '#000', '#333')}
        {S(cleoII, 'openTri', 6, '#444', '#444')}
      </Panel>
      <Overlay />
    </div>
  );
}
